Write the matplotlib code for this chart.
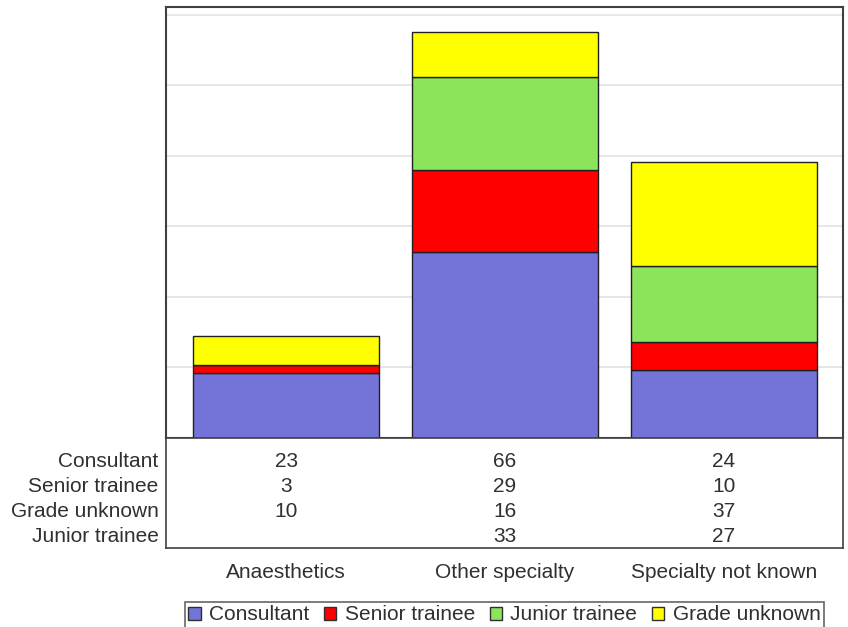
import matplotlib.pyplot as plt
from matplotlib.patches import Patch
import numpy as np

plt.rcParams['font.family'] = ['Liberation Sans', 'DejaVu Sans']

categories = ['Anaesthetics', 'Other specialty', 'Specialty not known']
consultant = [23, 66, 24]
senior_trainee = [3, 29, 10]
junior_trainee = [0, 33, 27]
grade_unknown = [10, 16, 37]

# stacking order, bottom to top
series = [('Consultant', consultant, '#7474d8'),
          ('Senior trainee', senior_trainee, '#ff0000'),
          ('Junior trainee', junior_trainee, '#8ce35c'),
          ('Grade unknown', grade_unknown, '#ffff00')]
# row order of the table underneath
table_rows = [('Consultant', consultant),
              ('Senior trainee', senior_trainee),
              ('Grade unknown', grade_unknown),
              ('Junior trainee', junior_trainee)]

W, H = 848, 627
fig = plt.figure(figsize=(W / 100, H / 100), dpi=100)
left, right = 166 / W, 843 / W
ax = fig.add_axes([left, 1 - 438 / H, right - left, (438 - 7) / H])
tab = fig.add_axes([left, 1 - 548 / H, right - left, (548 - 438) / H])

x = np.arange(len(categories))
bottom = np.zeros(len(categories))
for name, vals, col in series:
    ax.bar(x, vals, width=0.85, bottom=bottom, color=col,
           edgecolor='#202020', linewidth=1.0, zorder=3)
    bottom += np.array(vals)

xl = (-0.55, 2.545)
ax.set_xlim(*xl)
ax.set_ylim(0, 152.8)
ax.set_yticks(np.arange(25, 151, 25))
ax.yaxis.grid(True, color='#e2e2e2', linewidth=1.2, zorder=0)
ax.tick_params(left=False, bottom=False, labelleft=False, labelbottom=False)
for s in ax.spines.values():
    s.set_color('#404040')
    s.set_linewidth(1.5)

# table axes measured in pixels from its top edge
tab.set_xlim(*xl)
tab.set_ylim(110, 0)
tab.set_xticks([])
tab.set_yticks([])
for s in tab.spines.values():
    s.set_color('#404040')
    s.set_linewidth(1.2)

fs = 15
tc = '#303030'
for r, (name, vals) in enumerate(table_rows):
    yb = 29 + 25 * r
    tab.text(-0.011, yb, name, transform=tab.get_yaxis_transform(),
             ha='right', va='baseline', fontsize=fs, color=tc)
    for i, v in enumerate(vals):
        if v:
            tab.text(x[i], yb, str(v), ha='center', va='baseline',
                     fontsize=fs, color=tc)

for i, c in enumerate(categories):
    fig.text(left + (x[i] - xl[0]) / (xl[1] - xl[0]) * (right - left),
             1 - 578 / H, c, ha='center', va='baseline', fontsize=fs,
             color=tc)

handles = [Patch(facecolor=col, edgecolor='#303030', linewidth=1.0, label=name)
           for name, vals, col in series]
leg = fig.legend(handles=handles, loc='center',
                 bbox_to_anchor=((left + right) / 2, 1 - 615 / H), ncol=4,
                 fontsize=fs, frameon=True, fancybox=False, edgecolor='#404040',
                 handlelength=0.6, handleheight=0.6, handletextpad=0.4,
                 columnspacing=0.7, borderpad=0.15, borderaxespad=0)
leg.get_frame().set_linewidth(1.2)
for t in leg.get_texts():
    t.set_color(tc)

fig.savefig('out.png', dpi=100)
